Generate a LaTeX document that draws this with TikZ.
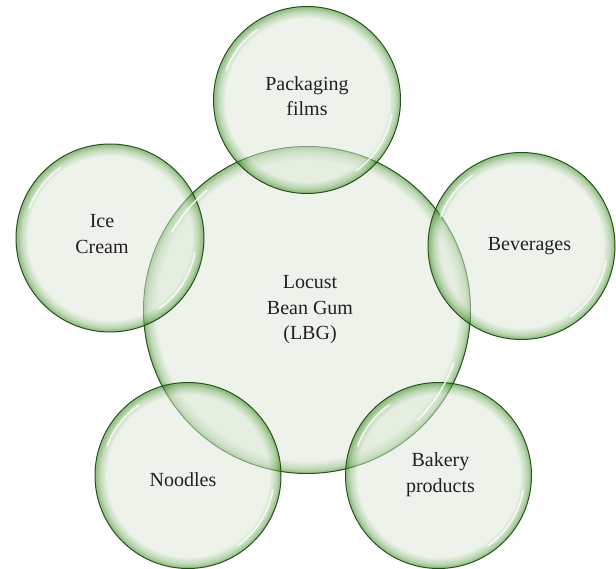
\documentclass[tikz,border=0pt]{standalone}
\usepackage{fontspec}
\setmainfont{Liberation Serif}
\usepackage{tikz}
\usetikzlibrary{positioning}

\definecolor{bubfill}{HTML}{DCE8D6}
\definecolor{bubrim}{HTML}{34861A}
\definecolor{bubedge}{HTML}{24501A}
\definecolor{bubtext}{HTML}{231F20}

% pale discs with a green glow towards the rim (path box = inner 25bp)
\pgfdeclareradialshading{bubble}{\pgfpoint{0bp}{0bp}}{%
  color(0bp)=(bubfill); color(21.8bp)=(bubfill); color(23.7bp)=(bubrim!55!bubfill);
  color(24.6bp)=(bubrim); color(25bp)=(bubrim); color(50bp)=(bubrim)}
\pgfdeclareradialshading{bigbubble}{\pgfpoint{0bp}{0bp}}{%
  color(0bp)=(bubfill); color(23bp)=(bubfill); color(24.3bp)=(bubrim!55!bubfill);
  color(24.8bp)=(bubrim); color(25bp)=(bubrim); color(50bp)=(bubrim)}

\tikzset{
  bubble/.style={circle, draw=bubedge, line width=1pt, shading=bubble,
    fill opacity=0.5, draw opacity=1, inner sep=0pt},
  shine/.style={white, line width=1.6pt, opacity=0.8, line cap=round},
  lbl/.style={text=bubtext, align=center, font=\fontsize{20}{25.5}\selectfont},
}

\begin{document}
\begin{tikzpicture}[x=1pt,y=-1pt]
\useasboundingbox (0,0) rectangle (616,569);
% Centre
\node[bubble, shading=bigbubble, minimum size=327pt] (lbg) at (307,310) {};
% Uses around it
\node[bubble, minimum size=187pt] (pack) at (307,100) {};
\node[bubble, minimum size=188pt] (ice) at (110,238) {};
\node[bubble, minimum size=187pt] (bev) at (521.5,246) {};
\node[bubble, minimum size=186pt] (nood) at (188,475.5) {};
\node[bubble, minimum size=186pt] (bake) at (438.5,475.5) {};
% Highlights inside the rims (y runs downwards)
\foreach \c in {pack,ice,bev,nood,bake} {
  \draw[shine] ([shift={(10:86)}]\c.center) arc[start angle=10, end angle=55, radius=86];
  \draw[shine] ([shift={(-125:86)}]\c.center) arc[start angle=-125, end angle=-160, radius=86];
}
\draw[shine] ([shift={(20:156)}]lbg.center) arc[start angle=20, end angle=45, radius=156];
\draw[shine] ([shift={(-130:156)}]lbg.center) arc[start angle=-130, end angle=-150, radius=156];
% Labels
\node[lbl] (lbgtxt) at ([xshift=3pt]lbg.center) {Locust\\Bean Gum\\(LBG)};
\node[lbl] (packtxt) at ([yshift=4pt]pack.center) {Packaging\\films};
\node[lbl] (icetxt) at ([xshift=-8pt,yshift=4pt]ice.center) {Ice\\Cream};
\node[lbl] (bevtxt) at ([xshift=8pt]bev.center) {Beverages};
\node[lbl] (noodtxt) at ([xshift=-5pt,yshift=-4pt]nood.center) {Noodles};
\node[lbl] (baketxt) at ([xshift=2pt,yshift=1pt]bake.center) {Bakery\\products};
\end{tikzpicture}
\end{document}
